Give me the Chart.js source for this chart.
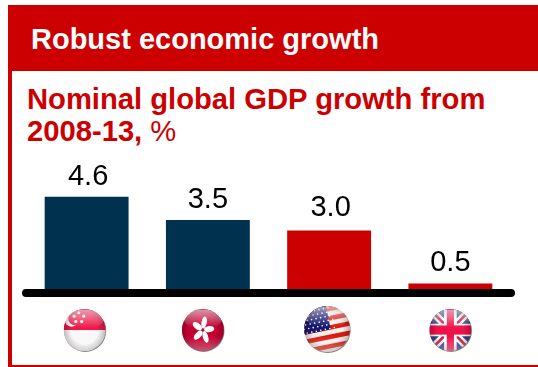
<!DOCTYPE html>
<html>
<head>
<meta charset="utf-8">
<title>Robust economic growth</title>
<script src="https://cdn.jsdelivr.net/npm/chart.js@4/dist/chart.umd.min.js"></script>
<style>
    html, body { margin: 0; padding: 0; background: #fff; overflow: hidden; }
    body { width: 538px; height: 367px; position: relative; font-family: "Liberation Sans", Arial, sans-serif; }
    #frame { position: absolute; left: 8px; top: 5px; width: 530px; height: 362px; box-sizing: border-box; border-left: 4px solid #CC0000; border-bottom: 2px solid #CC0000; }
    #header { position: absolute; left: 8px; top: 5px; width: 530px; height: 66px; background: #CC0000; }
    #header span { position: absolute; left: 23px; top: 18px; font-size: 29px; line-height: 33px; font-weight: bold; color: #fff; white-space: nowrap; }
    #subtitle { position: absolute; left: 27px; top: 83px; font-size: 29.2px; line-height: 32px; color: #CC0000; white-space: nowrap; }
    #chartBox { position: absolute; left: 0; top: 0; width: 538px; height: 367px; }
</style>
</head>
<body>
<div id="frame"></div>
<div id="header"><span>Robust economic growth</span></div>
<div id="subtitle"><b>Nominal global GDP growth from<br>2008-13,</b> %</div>
<div id="chartBox"><canvas id="growthChart" width="538" height="367"></canvas></div>

<script>
const countries = ['Singapore', 'Hong Kong', 'United States', 'United Kingdom'];
const growth = [4.6, 3.5, 3.0, 0.5];
const growthLabels = ['4.6', '3.5', '3.0', '0.5'];
const barColors = ['#00324F', '#00324F', '#CC0000', '#CC0000'];

// small hand nudges for the value labels
const labelShift = [[1.5, 0], [0, 0], [1.5, -3], [0, 0]];

// Flag painters, each works in a box of -r..r around the origin
const flags = {
    'Singapore'(c, r) {
        c.fillStyle = '#F01848';
        c.fillRect(-r, -r, 2 * r, r);
        c.fillStyle = '#F8F8F8';
        c.fillRect(-r, 0, 2 * r, r);
        c.fillStyle = '#fff';
        c.beginPath();
        c.arc(-r * 0.62, -r * 0.5, r * 0.34, 0, Math.PI * 2);
        c.fill();
        c.fillStyle = '#F01848';
        c.beginPath();
        c.arc(-r * 0.46, -r * 0.55, r * 0.32, 0, Math.PI * 2);
        c.fill();
        c.fillStyle = '#fff';
        [[-0.38, -0.82], [-0.14, -0.66], [-0.24, -0.4], [-0.52, -0.4], [-0.6, -0.66]].forEach(s => {
            c.beginPath();
            c.arc(s[0] * r + r * 0.1, s[1] * r, r * 0.075, 0, Math.PI * 2);
            c.fill();
        });
    },
    'Hong Kong'(c, r) {
        c.fillStyle = '#C40030';
        c.fillRect(-r, -r, 2 * r, 2 * r);
        c.fillStyle = '#fff';
        c.save();
        c.scale(0.9, 1.08);
        for (let i = 0; i < 5; i++) {
            c.save();
            c.rotate(i * Math.PI * 2 / 5 + 0.05);
            c.beginPath();
            c.ellipse(r * 0.05, -r * 0.33, r * 0.14, r * 0.27, 0.2, 0, Math.PI * 2);
            c.fill();
            c.restore();
        }
        c.restore();
    },
    'United States'(c, r) {
        c.rotate(-0.2);
        const h = 2.2 * r / 11;
        c.fillStyle = '#F8EEE8';
        c.fillRect(-r * 1.3, -r * 1.3, r * 2.6, r * 2.6);
        c.fillStyle = '#DC1A14';
        for (let i = -1; i < 7; i++) {
            c.fillRect(-r * 1.3, -r * 1.06 + i * 2 * h + h * 0.6, r * 2.6, h);
        }
        c.fillStyle = '#14186E';
        c.fillRect(-r * 1.3, -r * 1.3, r * 1.45, r * 1.34);
        c.fillStyle = '#fff';
        for (let row = 0; row < 6; row++) {
            for (let col = 0; col < 7; col++) {
                c.beginPath();
                c.arc(-r * 0.98 + col * r * 0.2 + (row % 2) * r * 0.1, -r * 0.9 + row * r * 0.18, r * 0.035, 0, Math.PI * 2);
                c.fill();
            }
        }
    },
    'United Kingdom'(c, r) {
        c.fillStyle = '#2A3A82';
        c.fillRect(-r, -r, 2 * r, 2 * r);
        c.lineCap = 'butt';
        c.strokeStyle = '#fff';
        c.lineWidth = r * 0.36;
        c.beginPath();
        c.moveTo(-r, -r); c.lineTo(r, r);
        c.moveTo(r, -r); c.lineTo(-r, r);
        c.stroke();
        c.strokeStyle = '#D0143C';
        c.lineWidth = r * 0.13;
        c.beginPath();
        c.moveTo(-r, -r); c.lineTo(r, r);
        c.moveTo(r, -r); c.lineTo(-r, r);
        c.stroke();
        c.fillStyle = '#fff';
        c.fillRect(-r * 0.3, -r, r * 0.6, 2 * r);
        c.fillRect(-r, -r * 0.3, 2 * r, r * 0.6);
        c.fillStyle = '#F0104A';
        c.fillRect(-r * 0.17, -r, r * 0.34, 2 * r);
        c.fillRect(-r, -r * 0.22, 2 * r, r * 0.44);
    }
};

// Offset and radius of each round flag under its bar
const flagSpots = {
    'Singapore': { dx: -2, y: 330, r: 21 },
    'Hong Kong': { dx: -5, y: 330, r: 21 },
    'United States': { dx: -2, y: 329, r: 23 },
    'United Kingdom': { dx: 0, y: 330, r: 21 }
};

function drawBall(c, x, y, r, paint) {
    c.save();
    c.translate(x, y);

    // soft shadow, low on the right side
    c.fillStyle = 'rgba(80,80,80,0.7)';
    c.beginPath();
    c.arc(0.6, 0.9, r, 0, Math.PI * 2);
    c.fill();

    c.save();
    c.beginPath();
    c.arc(0, 0, r, 0, Math.PI * 2);
    c.clip();
    c.save();
    paint(c, r);
    c.restore();

    // darker rim, lighter centre
    let g = c.createRadialGradient(0, 0, r * 0.65, 0, 0, r);
    g.addColorStop(0, 'rgba(0,0,0,0)');
    g.addColorStop(1, 'rgba(30,0,10,0.25)');
    c.fillStyle = g;
    c.fillRect(-r, -r, 2 * r, 2 * r);

    // glass highlight over the top half
    g = c.createLinearGradient(0, -r, 0, -r * 0.1);
    g.addColorStop(0, 'rgba(255,255,255,0.62)');
    g.addColorStop(1, 'rgba(255,255,255,0)');
    c.fillStyle = g;
    c.beginPath();
    c.ellipse(0, -r * 0.5, r * 0.9, r * 0.48, 0, 0, Math.PI * 2);
    c.fill();

    // glow at the bottom
    g = c.createLinearGradient(0, r * 0.3, 0, r);
    g.addColorStop(0, 'rgba(255,255,255,0)');
    g.addColorStop(1, 'rgba(255,255,255,0.35)');
    c.fillStyle = g;
    c.fillRect(-r, r * 0.3, 2 * r, r);
    c.restore();
    c.restore();
}

const valueLabels = {
    id: 'valueLabels',
    afterDatasetsDraw(chart) {
        const c = chart.ctx;
        c.save();
        c.fillStyle = '#000';
        c.font = '29px "Liberation Sans", Arial, sans-serif';
        c.textAlign = 'center';
        c.textBaseline = 'alphabetic';
        chart.getDatasetMeta(0).data.forEach((bar, i) => {
            c.fillText(growthLabels[i], bar.x + labelShift[i][0], bar.y - 12 + labelShift[i][1]);
        });
        c.restore();
    }
};

// thick round-capped baseline, then the flags below it
const baseline = {
    id: 'baseline',
    afterDatasetsDraw(chart) {
        const c = chart.ctx;
        const a = chart.chartArea;
        c.save();
        c.strokeStyle = '#000';
        c.lineWidth = 8;
        c.lineCap = 'round';
        c.beginPath();
        c.moveTo(a.left, a.bottom - 1);
        c.lineTo(a.right, a.bottom - 1);
        c.stroke();
        c.restore();

        countries.forEach((name, i) => {
            const spot = flagSpots[name];
            drawBall(c, chart.scales.x.getPixelForValue(i) + spot.dx, spot.y, spot.r, flags[name]);
        });
    }
};

new Chart(document.getElementById('growthChart'), {
    type: 'bar',
    data: {
        labels: countries,
        datasets: [{
            data: growth,
            backgroundColor: barColors,
            borderWidth: 0,
            categoryPercentage: 1,
            barPercentage: 0.692
        }]
    },
    options: {
        responsive: false,
        animation: false,
        layout: { padding: { left: 26, right: 27, top: 167, bottom: 73 } },
        plugins: {
            legend: { display: false },
            tooltip: { enabled: false }
        },
        scales: {
            x: { display: false },
            y: { display: false, min: 0, max: 6 }
        }
    },
    plugins: [valueLabels, baseline]
});
</script>
</body>
</html>
